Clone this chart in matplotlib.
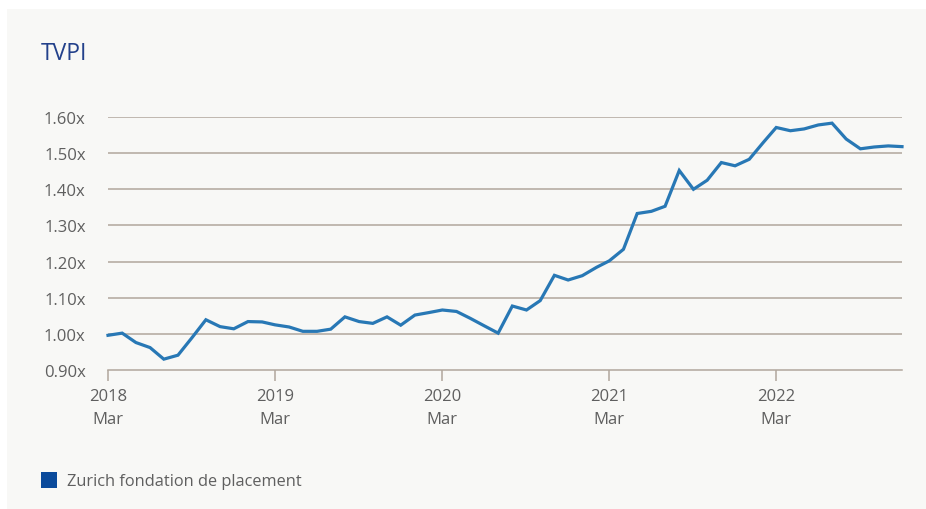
import numpy as np
import pandas as pd
import matplotlib.pyplot as plt
import matplotlib.dates as mdates
from matplotlib.patches import Rectangle

plt.rcParams['font.family'] = ['Open Sans', 'DejaVu Sans']

# monthly TVPI, March 2018 to December 2022
months = pd.date_range('2018-03-01', '2022-12-01', freq='MS')
tvpi = [0.996, 1.002, 0.976, 0.962, 0.930, 0.941, 0.990, 1.039, 1.020, 1.014,
        1.034, 1.033, 1.025, 1.019, 1.007, 1.007, 1.013, 1.047, 1.034, 1.029,
        1.047, 1.024, 1.052, 1.059, 1.066, 1.062, 1.043, 1.022, 1.002, 1.077,
        1.066, 1.092, 1.162, 1.149, 1.161, 1.184, 1.202, 1.234, 1.333, 1.339,
        1.353, 1.452, 1.400, 1.425, 1.474, 1.465, 1.483, 1.530, 1.571, 1.562,
        1.567, 1.578, 1.583, 1.539, 1.512, 1.517, 1.520, 1.518]
yticks = [0.90, 1.00, 1.10, 1.20, 1.30, 1.40, 1.50, 1.60]
years = [2018, 2019, 2020, 2021, 2022]
series_name = 'Zurich fondation de placement'
title = 'TVPI'

W, H = 926, 510
fig = plt.figure(figsize=(W / 100, H / 100), dpi=100)
fig.patch.set_facecolor('white')
fig.patches.append(Rectangle((7 / W, 0), 1, 1 - 10 / H, transform=fig.transFigure,
                             facecolor='#f8f8f6', edgecolor='none', zorder=-10))

ax = fig.add_axes([108 / W, (H - 371) / H, (902 - 108) / W, (371 - 118) / H])
ax.set_facecolor('none')

grid_c = '#b1a79d'
text_c = '#5f5f5f'

ax.plot(months, tvpi, color='#2878b5', lw=2.3, solid_joinstyle='miter', zorder=3, clip_on=False)

ax.set_ylim(0.9, 1.6)
ax.set_yticks(yticks)
ax.set_yticklabels([f'{v:.2f}x' for v in yticks])
ax.set_xlim(months[0], months[-1])
ticks = [pd.Timestamp(f'{y}-03-01') for y in years]
ax.set_xticks(ticks)
ax.set_xticklabels([f'{y}\nMar' for y in years], linespacing=1.55)

for v in yticks[1:]:
    ax.axhline(v, color=grid_c, lw=1.1, zorder=1)

for s in ['top', 'right', 'left']:
    ax.spines[s].set_visible(False)
ax.spines['bottom'].set_color(grid_c)
ax.spines['bottom'].set_linewidth(1.1)

ax.tick_params(axis='y', length=0, pad=16, labelsize=12, labelcolor=text_c)
ax.tick_params(axis='x', length=8, width=1.1, color=grid_c, pad=5, labelsize=12, labelcolor=text_c)

fig.text(41 / W, 1 - 54 / H, title, fontsize=16.5, color='#23418b', va='center', ha='left')

fig.patches.append(Rectangle((41 / W, 1 - 489 / H), 16 / W, 16 / H, transform=fig.transFigure,
                             facecolor='#0a4a9b', edgecolor='none', zorder=2))
fig.text(67 / W, 1 - 482 / H, series_name, fontsize=11.8, color=text_c, va='center', ha='left')

fig.savefig('out.png', dpi=100, facecolor=fig.get_facecolor())
